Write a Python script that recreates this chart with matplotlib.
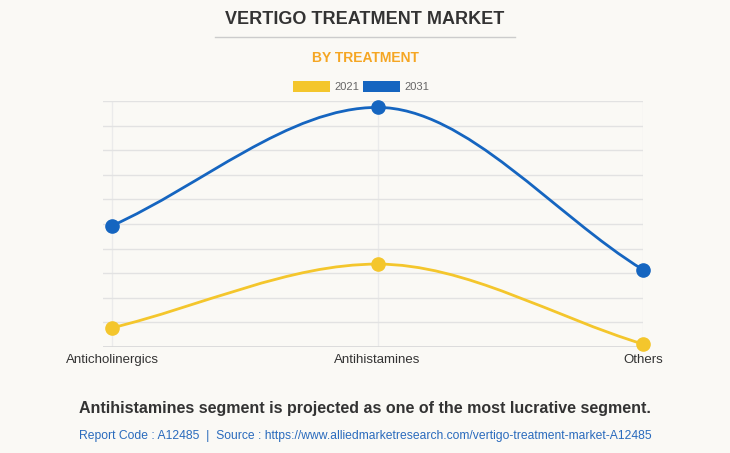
import matplotlib.pyplot as plt
from matplotlib.path import Path
from matplotlib.patches import PathPatch, Rectangle
import numpy as np

plt.rcParams['font.family'] = ['Liberation Sans', 'DejaVu Sans']

categories = ['Anticholinergics', 'Antihistamines', 'Others']
years = ['2021', '2031']
values_2021 = [0.78, 3.37, 0.12]
values_2031 = [4.93, 9.74, 3.14]
colors = ['#f4c62c', '#1565c0']

bg = '#faf9f5'


def monotone_path(x, y):
    # Fritsch-Carlson monotone cubic as bezier segments
    x = np.asarray(x, float)
    y = np.asarray(y, float)
    n = len(x)
    d = np.diff(y) / np.diff(x)
    m = np.zeros(n)
    m[0] = d[0]
    m[-1] = d[-1]
    for i in range(1, n - 1):
        if d[i - 1] * d[i] <= 0:
            m[i] = 0
        else:
            m[i] = (d[i - 1] + d[i]) / 2
    verts = [(x[0], y[0])]
    codes = [Path.MOVETO]
    for i in range(n - 1):
        h = x[i + 1] - x[i]
        verts += [(x[i] + h / 3, y[i] + m[i] * h / 3),
                  (x[i + 1] - h / 3, y[i + 1] - m[i + 1] * h / 3),
                  (x[i + 1], y[i + 1])]
        codes += [Path.CURVE4] * 3
    return Path(verts, codes)


fig = plt.figure(figsize=(7.3, 4.53), dpi=100, facecolor=bg)
ax = fig.add_axes([103 / 730, 1 - 347 / 453, 540 / 730, 246 / 453])
ax.set_facecolor(bg)

xs = np.arange(len(categories))
for vals, c in zip([values_2021, values_2031], colors):
    ax.add_patch(PathPatch(monotone_path(xs, vals), facecolor='none',
                           edgecolor=c, lw=2, zorder=3, clip_on=False))
    ax.plot(xs, vals, 'o', color=c, ms=9.5, zorder=4, clip_on=False)

ax.set_xlim(-0.034, 2)
ax.set_ylim(0, 10)
ax.set_yticks(np.arange(0, 11, 1))
ax.set_yticklabels([])
ax.set_xticks(xs)
ax.set_xticklabels(categories, fontsize=9.5, color='#333333')
ax.tick_params(length=0, pad=5)
ax.grid(True, axis='y', color='#e2e2e2', lw=1)
ax.grid(True, axis='x', color='#ebebeb', lw=1)
ax.set_axisbelow(True)
for s in ax.spines.values():
    s.set_visible(False)
ax.axhline(0, color='#d8d8d8', lw=1.2, zorder=1)

fig.text(0.5, 1 - 20 / 453, 'VERTIGO TREATMENT MARKET', ha='center', va='center',
         fontsize=13, fontweight='bold', color='#333333')
fig.add_artist(plt.Line2D([215 / 730, 515 / 730], [1 - 37 / 453] * 2,
                          color='#cccccc', lw=1))
fig.text(0.5, 1 - 58 / 453, 'BY TREATMENT', ha='center', va='center',
         fontsize=10, fontweight='bold', color='#f5a623')

# legend
lx = [293, 363]
for i, (yr, c) in enumerate(zip(years, colors)):
    fig.add_artist(Rectangle((lx[i] / 730, 1 - 92 / 453), 37 / 730, 11 / 453,
                             transform=fig.transFigure, facecolor=c, edgecolor='none'))
    fig.text((lx[i] + 41) / 730, 1 - 87 / 453, yr, ha='left', va='center',
             fontsize=8, color='#666666')

fig.text(0.5, 1 - 409 / 453,
         'Antihistamines segment is projected as one of the most lucrative segment.',
         ha='center', va='center', fontsize=11.5, fontweight='bold', color='#333333')
fig.text(0.5, 1 - 436 / 453,
         'Report Code : A12485  |  Source : https://www.alliedmarketresearch.com/vertigo-treatment-market-A12485',
         ha='center', va='center', fontsize=8.7, color='#2a6bbd')

fig.savefig('out.png', dpi=100, facecolor=bg)
